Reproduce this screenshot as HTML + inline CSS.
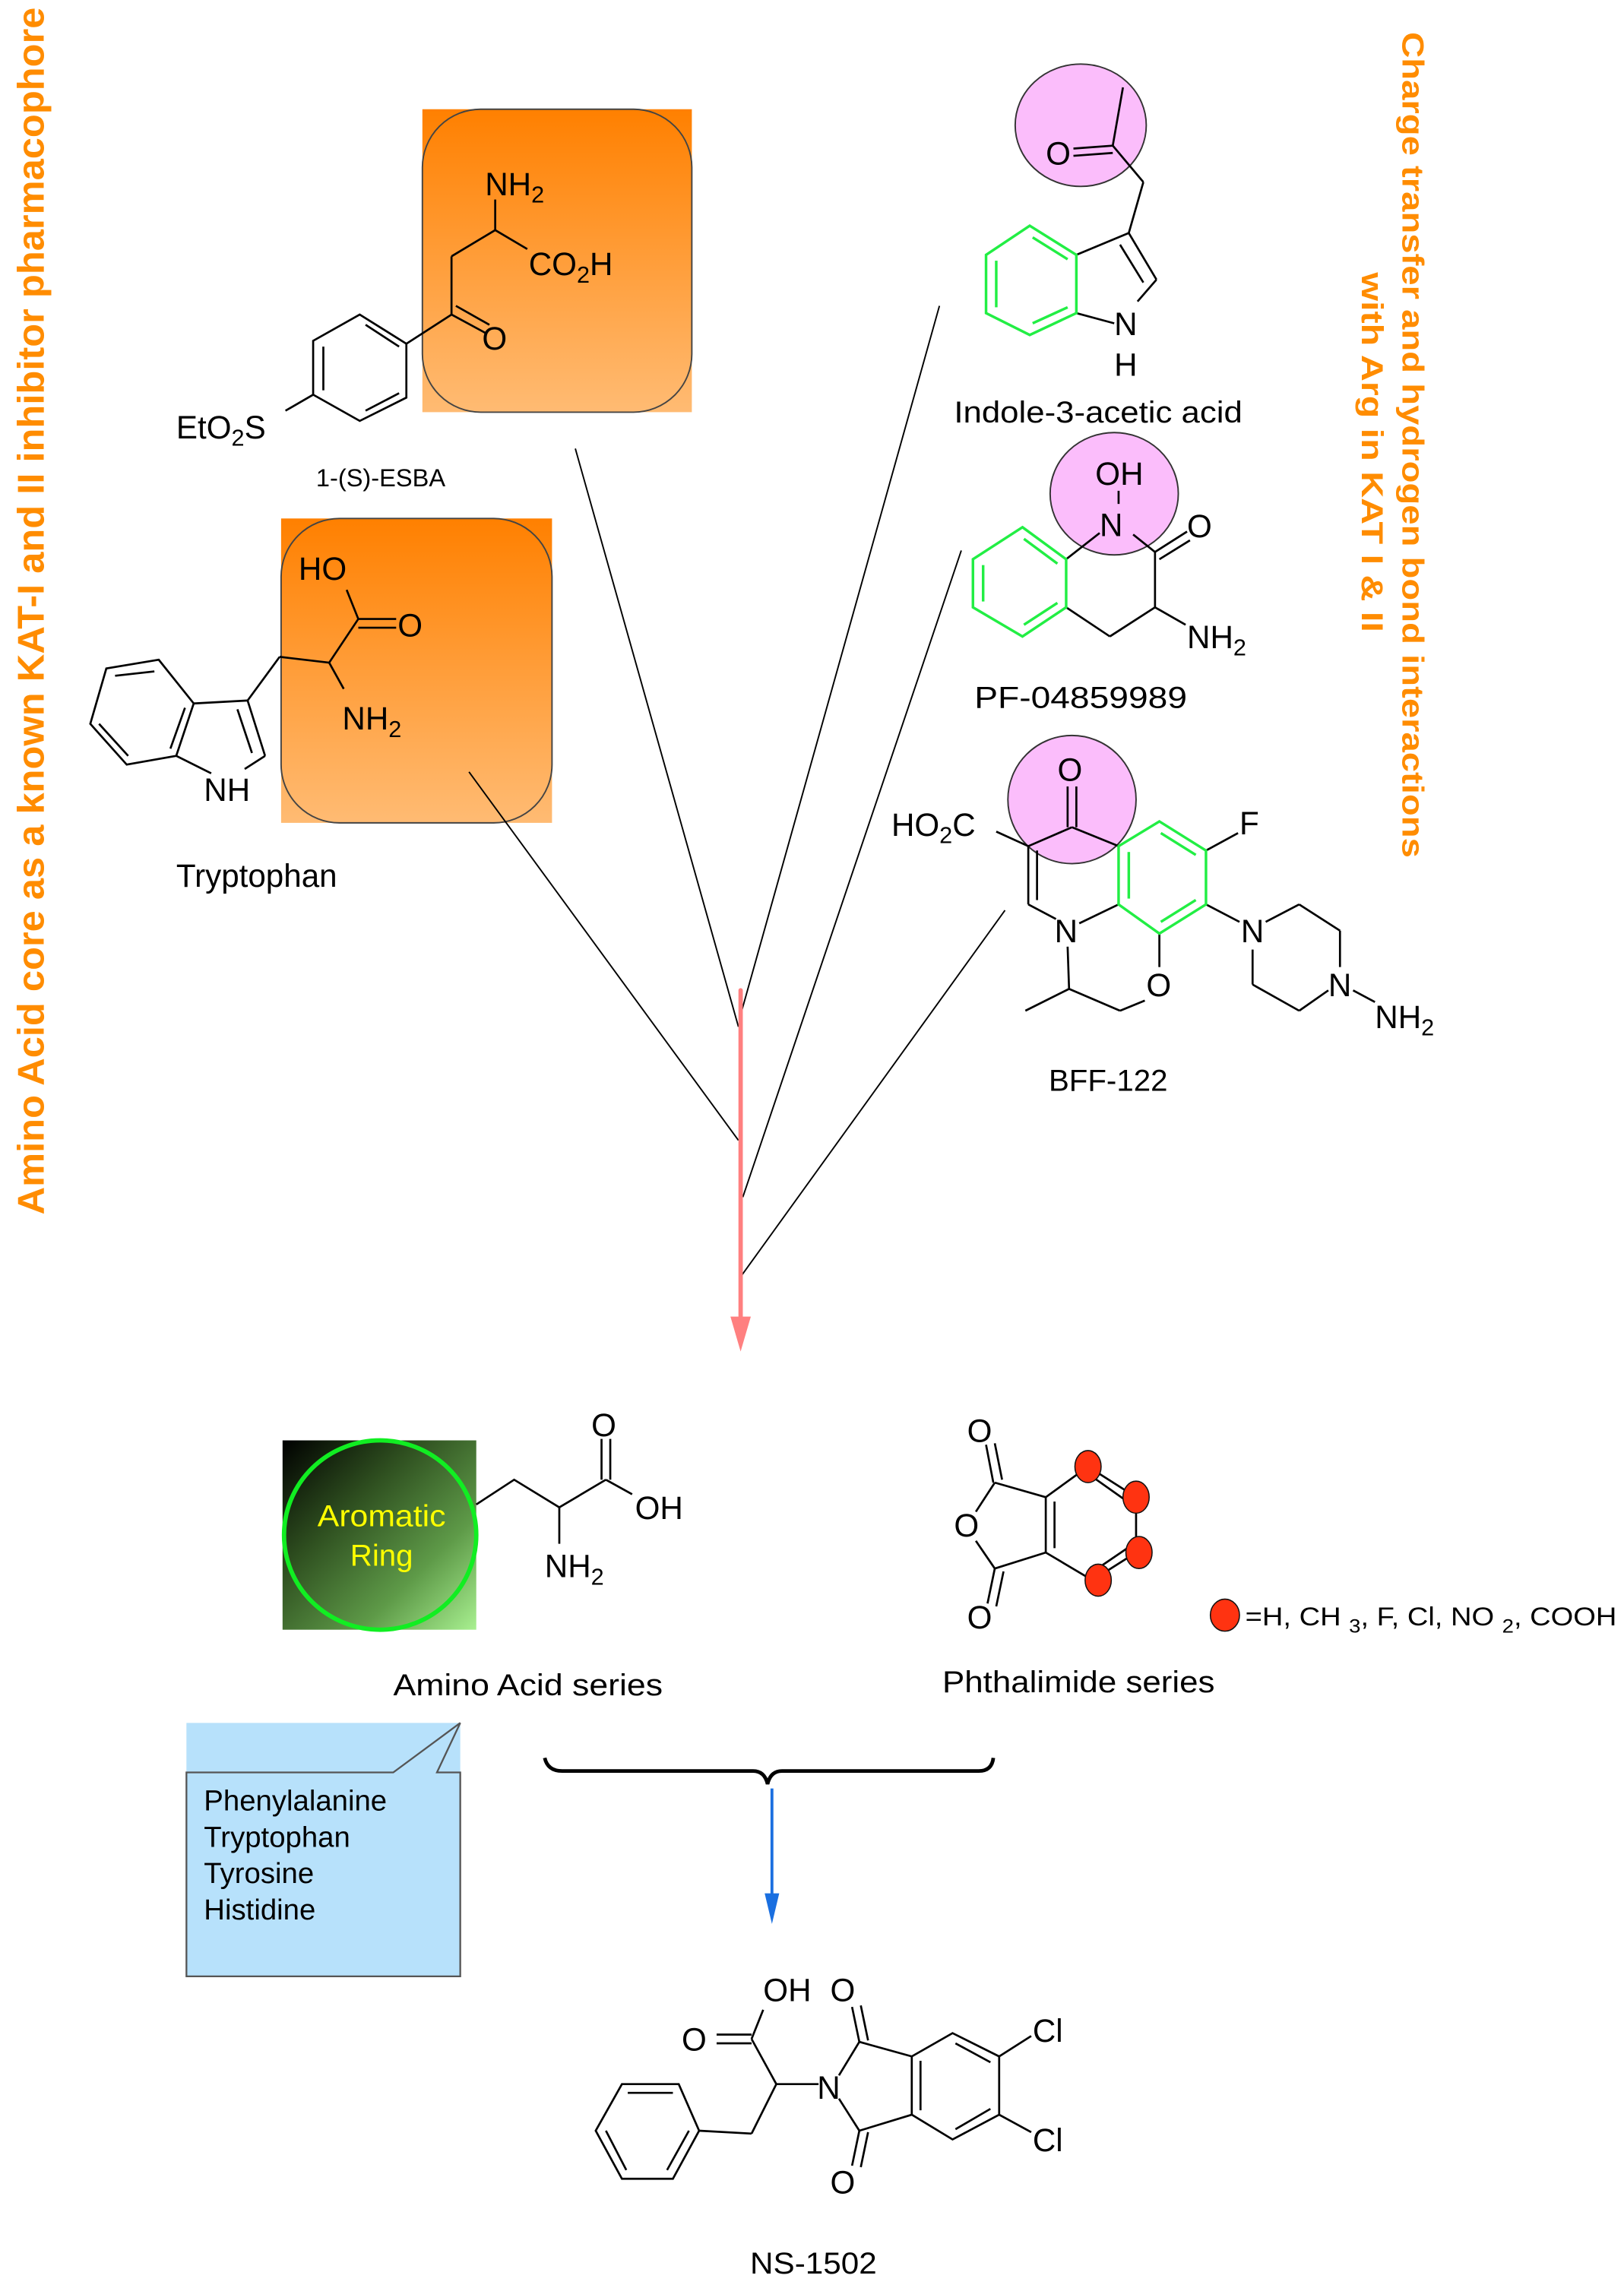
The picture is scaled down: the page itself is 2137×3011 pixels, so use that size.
<!DOCTYPE html>
<html><head><meta charset="utf-8"><style>
html,body{margin:0;padding:0;background:#fff;}
svg{display:block;}
text{font-family:"Liberation Sans",sans-serif;}
</style></head><body>
<svg width="2137" height="3011" viewBox="0 0 1115 1571" preserveAspectRatio="none" xmlns="http://www.w3.org/2000/svg">
<defs>
<linearGradient id="og" x1="0" y1="0" x2="0" y2="1"><stop offset="0" stop-color="#ff8000"/><stop offset="1" stop-color="#ffbb73"/></linearGradient>
<linearGradient id="gg" x1="0" y1="0" x2="1" y2="1"><stop offset="0" stop-color="#000"/><stop offset="0.35" stop-color="#2f5020"/><stop offset="0.7" stop-color="#5e9a48"/><stop offset="1" stop-color="#a8f090"/></linearGradient>
</defs>
<g fill="none" stroke="#000" stroke-width="1.4" stroke-linecap="round">
</g>

<!-- vertical orange texts -->
<text transform="translate(30,834) rotate(-90)" font-size="25.5" font-weight="bold" fill="#ff8c00" textLength="829" lengthAdjust="spacingAndGlyphs">Amino Acid core as a known KAT-I and II inhibitor pharmacophore</text>
<text transform="translate(963,22) rotate(90)" font-size="21" font-weight="bold" fill="#ff8c00" textLength="567" lengthAdjust="spacingAndGlyphs">Charge transfer and hydrogen bond interactions</text>
<text transform="translate(935,187) rotate(90)" font-size="21" font-weight="bold" fill="#ff8c00" textLength="247" lengthAdjust="spacingAndGlyphs">with Arg in KAT I &amp; II</text>

<!-- orange boxes -->
<rect x="290" y="75" width="185" height="208" fill="url(#og)"/>
<rect x="290" y="75" width="185" height="208" rx="40" fill="none" stroke="#444" stroke-width="1"/>
<rect x="193" y="356" width="186" height="209" fill="url(#og)"/>
<rect x="193" y="356" width="186" height="209" rx="40" fill="none" stroke="#444" stroke-width="1"/>

<!-- connectors -->
<g stroke="#000" stroke-width="1" fill="none">
<line x1="395" y1="308" x2="507" y2="705"/>
<line x1="322" y1="530" x2="507" y2="783"/>
<line x1="645" y1="210" x2="509" y2="695"/>
<line x1="660" y1="378" x2="510" y2="822"/>
<line x1="690" y1="625" x2="509" y2="876"/>
</g>
<line x1="508.5" y1="680" x2="508.5" y2="906" stroke="#ff8080" stroke-width="3" stroke-linecap="round"/>
<polygon points="501.5,904 515.5,904 508.5,928" fill="#ff8080"/>

<!-- ESBA -->
<g stroke="#000" stroke-width="1.4" fill="none">
<polygon points="247,216 279,236 279,273 247,289 215,271 215,234"/>
<line x1="251" y1="223" x2="274" y2="238"/><line x1="222" y1="238" x2="222" y2="268"/><line x1="251" y1="282" x2="274" y2="270"/>
<line x1="215" y1="271" x2="196" y2="282"/>
<line x1="279" y1="236" x2="310" y2="216"/>
<line x1="310" y1="216" x2="334" y2="229"/><line x1="313" y1="210" x2="336" y2="223"/>
<line x1="310" y1="216" x2="310" y2="176"/><line x1="310" y1="176" x2="340" y2="158"/>
<line x1="340" y1="158" x2="340" y2="137"/><line x1="340" y1="158" x2="362" y2="171"/>
</g>
<text x="121" y="301" font-size="22">EtO<tspan font-size="16" dy="5">2</tspan><tspan dy="-5">S</tspan></text>
<text x="333" y="134" font-size="22">NH<tspan font-size="16" dy="5">2</tspan></text>
<text x="363" y="189" font-size="22">CO<tspan font-size="16" dy="5">2</tspan><tspan dy="-5">H</tspan></text>
<text x="331" y="240" font-size="22">O</text>
<text x="217" y="334" font-size="17">1-(S)-ESBA</text>

<!-- Tryptophan -->
<g stroke="#000" stroke-width="1.4" fill="none">
<polygon points="109,453 133,483 121,519 87,525 62,497 73,459"/>
<line x1="106" y1="461" x2="79" y2="464"/><line x1="68" y1="497" x2="88" y2="519"/><line x1="127" y1="486" x2="117" y2="514"/>
<line x1="133" y1="483" x2="170" y2="481"/><line x1="170" y1="481" x2="182" y2="519"/><line x1="163" y1="487" x2="173" y2="517"/>
<line x1="182" y1="519" x2="168" y2="528"/><line x1="121" y1="519" x2="145" y2="531"/>
<line x1="170" y1="481" x2="192" y2="451"/><line x1="192" y1="451" x2="226" y2="455"/>
<line x1="226" y1="455" x2="246" y2="425"/><line x1="246" y1="425" x2="238" y2="405"/>
<line x1="246" y1="425" x2="272" y2="425"/><line x1="246" y1="431" x2="272" y2="431"/>
<line x1="226" y1="455" x2="236" y2="473"/>
</g>
<text x="205" y="398" font-size="22">HO</text>
<text x="273" y="437" font-size="22">O</text>
<text x="235" y="501" font-size="22">NH<tspan font-size="16" dy="5">2</tspan></text>
<text x="140" y="550" font-size="22">NH</text>
<text x="121" y="609" font-size="22">Tryptophan</text>

<!-- Indole-3-acetic acid -->
<ellipse cx="742" cy="86" rx="45" ry="42" fill="#fbbdfb" stroke="#333" stroke-width="1"/>
<g stroke="#000" stroke-width="1.4" fill="none">
<line x1="737" y1="102" x2="764" y2="100"/><line x1="737" y1="107" x2="764" y2="105"/>
<line x1="764" y1="100" x2="771" y2="60"/><line x1="764" y1="100" x2="785" y2="125"/>
<line x1="785" y1="125" x2="775" y2="160"/>
<line x1="739" y1="175" x2="775" y2="160"/><line x1="775" y1="160" x2="794" y2="192"/><line x1="769" y1="168" x2="785" y2="194"/>
<line x1="794" y1="192" x2="781" y2="207"/><line x1="739" y1="215" x2="765" y2="222"/>
</g>
<g stroke="#22ee44" stroke-width="1.8" fill="none">
<polygon points="707,155 739,175 739,215 707,230 677,215 677,175"/>
<line x1="709" y1="163" x2="733" y2="178"/><line x1="684" y1="179" x2="684" y2="211"/><line x1="709" y1="222" x2="733" y2="211"/>
</g>
<text x="718" y="113" font-size="22">O</text>
<text x="765" y="230" font-size="22">N</text>
<text x="765" y="258" font-size="22">H</text>
<text x="655" y="290" font-size="21" textLength="198" lengthAdjust="spacingAndGlyphs">Indole-3-acetic acid</text>

<!-- PF-04859989 -->
<ellipse cx="765" cy="339" rx="44" ry="42" fill="#fbbdfb" stroke="#333" stroke-width="1"/>
<g stroke="#000" stroke-width="1.4" fill="none">
<line x1="768" y1="337" x2="768" y2="346"/>
<line x1="732" y1="384" x2="755" y2="366"/><line x1="778" y1="367" x2="793" y2="379"/>
<line x1="793" y1="379" x2="815" y2="365"/><line x1="796" y1="384" x2="817" y2="371"/>
<line x1="793" y1="379" x2="793" y2="417"/><line x1="793" y1="417" x2="814" y2="429"/>
<line x1="793" y1="417" x2="762" y2="437"/><line x1="762" y1="437" x2="732" y2="417"/>
</g>
<g stroke="#22ee44" stroke-width="1.8" fill="none">
<polygon points="702,362 732,384 732,417 702,437 668,417 668,384"/>
<line x1="703" y1="370" x2="726" y2="387"/><line x1="675" y1="388" x2="675" y2="413"/><line x1="703" y1="429" x2="726" y2="414"/>
</g>
<text x="752" y="333" font-size="22">OH</text>
<text x="755" y="368" font-size="22">N</text>
<text x="815" y="369" font-size="22">O</text>
<text x="815" y="445" font-size="22">NH<tspan font-size="16" dy="5">2</tspan></text>
<text x="669" y="486" font-size="21" textLength="146" lengthAdjust="spacingAndGlyphs">PF-04859989</text>

<!-- BFF-122 -->
<ellipse cx="736" cy="549" rx="44" ry="44" fill="#fbbdfb" stroke="#333" stroke-width="1"/>
<g stroke="#000" stroke-width="1.4" fill="none">
<line x1="733" y1="540" x2="733" y2="568"/><line x1="739" y1="540" x2="739" y2="568"/>
<line x1="736" y1="568" x2="706" y2="581"/><line x1="736" y1="568" x2="768" y2="581"/>
<line x1="706" y1="581" x2="684" y2="571"/>
<line x1="706" y1="581" x2="706" y2="621"/><line x1="712" y1="584" x2="712" y2="618"/>
<line x1="706" y1="621" x2="725" y2="631"/><line x1="741" y1="634" x2="768" y2="621"/>
<line x1="796" y1="641" x2="796" y2="664"/><line x1="786" y1="687" x2="769" y2="694"/>
<line x1="769" y1="694" x2="734" y2="679"/><line x1="734" y1="679" x2="733" y2="650"/><line x1="734" y1="679" x2="704" y2="694"/>
<line x1="828" y1="584" x2="850" y2="572"/>
<line x1="828" y1="621" x2="851" y2="633"/>
<line x1="869" y1="633" x2="892" y2="621"/><line x1="892" y1="621" x2="920" y2="639"/><line x1="920" y1="639" x2="920" y2="664"/>
<line x1="912" y1="680" x2="892" y2="694"/><line x1="892" y1="694" x2="860" y2="676"/><line x1="860" y1="676" x2="860" y2="652"/>
<line x1="929" y1="680" x2="944" y2="688"/>
</g>
<g stroke="#22ee44" stroke-width="1.8" fill="none">
<polygon points="768,581 796,564 828,584 828,621 796,641 768,621"/>
<line x1="775" y1="585" x2="775" y2="617"/><line x1="797" y1="572" x2="821" y2="587"/><line x1="797" y1="633" x2="821" y2="618"/>
</g>
<text x="726" y="536" font-size="22">O</text>
<text x="612" y="574" font-size="22">HO<tspan font-size="16" dy="5">2</tspan><tspan dy="-5">C</tspan></text>
<text x="851" y="573" font-size="22">F</text>
<text x="724" y="647" font-size="22">N</text>
<text x="852" y="647" font-size="22">N</text>
<text x="787" y="684" font-size="22">O</text>
<text x="912" y="684" font-size="22">N</text>
<text x="944" y="706" font-size="22">NH<tspan font-size="16" dy="5">2</tspan></text>
<text x="720" y="749" font-size="21">BFF-122</text>

<!-- Amino acid series -->
<rect x="194" y="989" width="133" height="130" fill="url(#gg)"/>
<ellipse cx="261" cy="1054" rx="66" ry="65" fill="none" stroke="#11ee22" stroke-width="3"/>
<text x="262" y="1048" font-size="21" fill="#ffff00" text-anchor="middle" textLength="88" lengthAdjust="spacingAndGlyphs">Aromatic</text>
<text x="262" y="1075" font-size="21" fill="#ffff00" text-anchor="middle">Ring</text>
<g stroke="#000" stroke-width="1.4" fill="none">
<polyline points="327,1033 353,1016 384,1035 416,1016"/>
<line x1="413" y1="1016" x2="413" y2="988"/><line x1="419" y1="1016" x2="419" y2="988"/>
<line x1="416" y1="1016" x2="434" y2="1026"/>
<line x1="384" y1="1035" x2="384" y2="1060"/>
</g>
<text x="406" y="986" font-size="22">O</text>
<text x="436" y="1043" font-size="22">OH</text>
<text x="374" y="1083" font-size="22">NH<tspan font-size="16" dy="5">2</tspan></text>
<text x="270" y="1164" font-size="21" textLength="185" lengthAdjust="spacingAndGlyphs">Amino Acid series</text>

<!-- Phthalimide series -->
<g stroke="#000" stroke-width="1.4" fill="none">
<line x1="677" y1="992" x2="682" y2="1018"/><line x1="683" y1="991" x2="688" y2="1016"/>
<line x1="683" y1="1018" x2="670" y2="1038"/><line x1="670" y1="1058" x2="683" y2="1077"/>
<line x1="683" y1="1077" x2="678" y2="1101"/><line x1="689" y1="1079" x2="684" y2="1103"/>
<line x1="683" y1="1018" x2="718" y2="1028"/><line x1="683" y1="1077" x2="718" y2="1066"/>
<line x1="718" y1="1028" x2="718" y2="1066"/><line x1="724" y1="1031" x2="724" y2="1063"/>
<polyline points="718,1028 747,1007 780,1028 780,1066 750,1085 718,1066"/>
<line x1="750" y1="1014" x2="774" y2="1031"/><line x1="752" y1="1078" x2="774" y2="1063"/>
</g>
<text x="664" y="990" font-size="22">O</text>
<text x="655" y="1055" font-size="22">O</text>
<text x="664" y="1118" font-size="22">O</text>
<g fill="#ff3311" stroke="#111" stroke-width="0.8">
<ellipse cx="747" cy="1007" rx="9" ry="11"/><ellipse cx="780" cy="1028" rx="9" ry="11"/>
<ellipse cx="782" cy="1066" rx="9" ry="11"/><ellipse cx="754" cy="1085" rx="9" ry="11"/>
<ellipse cx="841" cy="1109" rx="10" ry="11"/>
</g>
<text x="855" y="1116" font-size="18" textLength="255" lengthAdjust="spacingAndGlyphs">=H, CH <tspan font-size="13" dy="5">3</tspan><tspan dy="-5">, F, Cl, NO </tspan><tspan font-size="13" dy="5">2</tspan><tspan dy="-5">, COOH</tspan></text>
<text x="647" y="1162" font-size="21" textLength="187" lengthAdjust="spacingAndGlyphs">Phthalimide series</text>

<!-- callout -->
<rect x="128" y="1183" width="188" height="174" fill="#b7e1fb"/>
<path d="M128,1217 L270,1217 L316,1183 L300,1217 L316,1217 L316,1357 L128,1357 Z" fill="#b7e1fb" stroke="#555" stroke-width="1.2"/>
<g font-size="20">
<text x="140" y="1243">Phenylalanine</text>
<text x="140" y="1268">Tryptophan</text>
<text x="140" y="1293">Tyrosine</text>
<text x="140" y="1318">Histidine</text>
</g>

<!-- brace and blue arrow -->
<path d="M374,1207 Q376,1216 386,1216 L517,1216 Q525,1216 527,1225 Q529,1216 537,1216 L672,1216 Q681,1216 682,1207" fill="none" stroke="#000" stroke-width="2.5"/>
<line x1="530" y1="1228" x2="530" y2="1305" stroke="#1a6fe0" stroke-width="2"/>
<polygon points="525,1300 535,1300 530,1321" fill="#1a6fe0"/>

<!-- NS-1502 -->
<g stroke="#000" stroke-width="1.4" fill="none">
<polygon points="427,1431 466,1431 480,1463 462,1496 427,1496 409,1463"/>
<line x1="431" y1="1437" x2="462" y2="1437"/><line x1="416" y1="1463" x2="430" y2="1490"/><line x1="458" y1="1490" x2="473" y2="1463"/>
<line x1="480" y1="1463" x2="516" y2="1465"/><line x1="516" y1="1465" x2="533" y2="1431"/>
<line x1="533" y1="1431" x2="516" y2="1400"/><line x1="516" y1="1400" x2="524" y2="1380"/>
<line x1="516" y1="1397" x2="492" y2="1397"/><line x1="516" y1="1403" x2="492" y2="1403"/>
<line x1="533" y1="1431" x2="562" y2="1431"/>
<line x1="576" y1="1425" x2="590" y2="1402"/><line x1="576" y1="1441" x2="590" y2="1463"/>
<line x1="590" y1="1402" x2="585" y2="1378"/><line x1="596" y1="1401" x2="591" y2="1377"/>
<line x1="590" y1="1463" x2="585" y2="1487"/><line x1="596" y1="1464" x2="591" y2="1488"/>
<line x1="590" y1="1402" x2="626" y2="1412"/><line x1="590" y1="1463" x2="626" y2="1452"/>
<polygon points="626,1412 654,1396 686,1412 686,1452 654,1469 626,1452"/>
<line x1="632" y1="1415" x2="632" y2="1449"/><line x1="656" y1="1403" x2="680" y2="1416"/><line x1="656" y1="1462" x2="680" y2="1448"/>
<line x1="686" y1="1412" x2="708" y2="1398"/><line x1="686" y1="1452" x2="708" y2="1464"/>
</g>
<text x="524" y="1374" font-size="22">OH</text>
<text x="570" y="1374" font-size="22">O</text>
<text x="468" y="1408" font-size="22">O</text>
<text x="561" y="1441" font-size="22">N</text>
<text x="570" y="1506" font-size="22">O</text>
<text x="709" y="1402" font-size="22">Cl</text>
<text x="709" y="1477" font-size="22">Cl</text>
<text x="515" y="1561" font-size="21" textLength="87" lengthAdjust="spacingAndGlyphs">NS-1502</text>
</svg>
</body></html>
